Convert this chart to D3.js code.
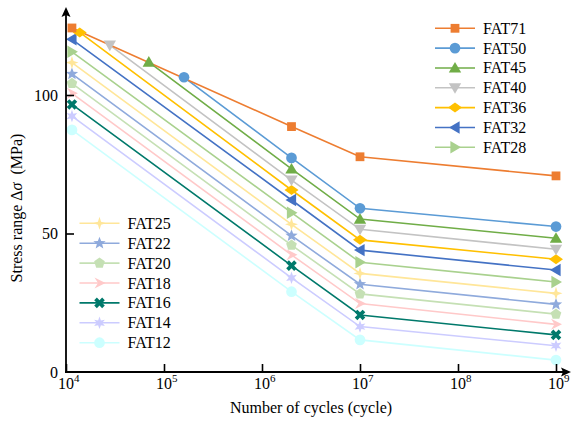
<!DOCTYPE html>
<html><head><meta charset="utf-8">
<script src="https://cdn.jsdelivr.net/npm/d3@7"></script>
<style>body{margin:0;background:#fff} svg{display:block} svg text{font-family:'Liberation Serif','Times New Roman',serif !important;}</style>
</head><body>
<svg id="c" width="572" height="422"></svg>
<script>
// ---------------- data ----------------
const seriesNames = ["FAT71","FAT50","FAT45","FAT40","FAT36","FAT32","FAT28","FAT25","FAT22","FAT20","FAT18","FAT16","FAT14","FAT12"];
const startCycles = [1.15e4,1.6e5,7.0e4,2.8e4,1.38e4,1.15e4,1.15e4,1.15e4,1.15e4,1.15e4,1.15e4,1.15e4,1.15e4,1.15e4];
const startStress = [124.2,106.4,111.9,118.0,122.6,120.1,115.6,111.7,107.6,104.2,100.6,96.6,92.4,87.4];
const knotCycles = [2e6,1e7,1e9];
const stressAt2e6 = [88.6,77.3,73.3,69.3,65.7,62.1,57.5,53.3,49.2,45.8,42.3,38.4,34.0,29.0];
const stressAt1e7 = [77.7,59.1,55.2,51.5,47.7,44.0,39.6,35.6,31.7,28.2,24.7,20.6,16.4,11.6];
const stressAt1e9 = [70.8,52.5,48.3,44.3,40.7,36.8,32.5,28.4,24.4,20.9,17.2,13.4,9.5,4.3];
const xTickValues = [1e4,1e5,1e6,1e7,1e8,1e9];
const yTickValues = [0,50,100];

// ---------------- styles ----------------
const colors = ["#ED7D31","#5B9BD5","#70AD47","#C3C3C3","#FFC000","#4472C4","#A9D18E","#FFE699","#8FAADC","#C5E0B4","#FFC9C9","#00796B","#CCCCFF","#CCFFFF"];
const markers = ["square","circle","triUp","triDown","diamond","triLeft","triRight","star4","star5","pentagon","chevron","cross","star6","circle"];

const svg = d3.select("#c");
const FONT = "Liberation Serif, Times New Roman, serif";

const x = d3.scaleLog().domain([1e4,1e9]).range([66,556]);
const y = d3.scaleLinear().domain([0,100]).range([372,95]);

function poly(pts){return "M"+pts.map(p=>p[0].toFixed(2)+","+p[1].toFixed(2)).join("L")+"Z";}
function starPts(n,r1,r2,rot){const p=[];for(let i=0;i<2*n;i++){const a=rot+Math.PI*i/n;const r=i%2?r2:r1;p.push([r*Math.sin(a),-r*Math.cos(a)]);}return p;}
function markerPath(kind){
  switch(kind){
    case "square": return poly([[-4.4,-4.4],[4.4,-4.4],[4.4,4.4],[-4.4,4.4]]);
    case "circle": return d3.symbol(d3.symbolCircle,90)();
    case "triUp": return poly([[0,-6],[6.2,4.6],[-6.2,4.6]]);
    case "triDown": return poly([[0,6],[6.2,-4.6],[-6.2,-4.6]]);
    case "triLeft": return poly([[-6,0],[4.6,-6.2],[4.6,6.2]]);
    case "triRight": return poly([[6,0],[-4.6,-6.2],[-4.6,6.2]]);
    case "diamond": return poly([[0,-5],[7,0],[0,5],[-7,0]]);
    case "star4": return poly(starPts(4,6.5,2.2,0));
    case "star5": return poly(starPts(5,6.5,2.8,0));
    case "pentagon": return poly(starPts(5,5.6,5.6*Math.cos(Math.PI/5),0).filter((_,i)=>i%2===0));
    case "chevron": return poly([[-5,-5.5],[6,0],[-5,5.5],[-1.5,0]]);
    case "cross": return d3.symbol(d3.symbolCross,70)();
    case "star6": return poly(starPts(6,6.2,2.8,0));
  }
}
function markerTransform(kind,px,py){return `translate(${px},${py})`+(kind==="cross"?" rotate(45)":"");}

// ---------------- series ----------------
const series = seriesNames.map((name,i)=>({
  name, color: colors[i], marker: markers[i],
  pts: [[startCycles[i],startStress[i]],[knotCycles[0],stressAt2e6[i]],[knotCycles[1],stressAt1e7[i]],[knotCycles[2],stressAt1e9[i]]]
}));

const line = d3.line().x(d=>x(d[0])).y(d=>y(d[1]));
const gLines = svg.append("g");
series.slice().reverse().forEach(s=>{
  gLines.append("path").attr("d",line(s.pts)).attr("fill","none").attr("stroke",s.color).attr("stroke-width",1.6);
});
const gMarks = svg.append("g");
series.slice().reverse().forEach(s=>{
  s.pts.forEach(p=>{
    gMarks.append("path").attr("d",markerPath(s.marker)).attr("transform",markerTransform(s.marker,x(p[0]),y(p[1]))).attr("fill",s.color);
  });
});

// ---------------- axes ----------------
const ax = svg.append("g").attr("transform","translate(0,372)")
  .call(d3.axisBottom(x).tickValues(xTickValues).tickSizeInner(-8).tickSizeOuter(0).tickFormat(""));
ax.select(".domain").remove();
ax.selectAll(".tick line").attr("stroke","#000").attr("stroke-width",1.6);

const ay = svg.append("g").attr("transform","translate(66,0)")
  .call(d3.axisLeft(y).tickValues(yTickValues).tickSizeInner(-8).tickSizeOuter(0).tickPadding(8).tickFormat(d3.format("d")));
ay.attr("font-family",FONT).attr("font-size",16);
ay.select(".domain").remove();
ay.selectAll(".tick line").attr("stroke","#000").attr("stroke-width",1.6).filter(d=>d===0).remove();
ay.selectAll(".tick text").attr("font-family",FONT).attr("font-size",16).attr("fill","#000");

// axis lines with arrows
svg.append("line").attr("x1",65).attr("x2",564).attr("y1",372).attr("y2",372).attr("stroke","#000").attr("stroke-width",1.8);
svg.append("line").attr("x1",66).attr("x2",66).attr("y1",373).attr("y2",14).attr("stroke","#000").attr("stroke-width",1.8);
svg.append("path").attr("d","M571,372L561,367.5L563,372L561,376.5Z").attr("fill","#000");
svg.append("path").attr("d","M66,7L61.5,17L66,15L70.5,17Z").attr("fill","#000");

// x tick labels with superscripts
const xl = svg.append("g");
xTickValues.forEach(v=>{
  const t = xl.append("text").attr("x",x(v)-8).attr("y",389).attr("font-family",FONT).attr("font-size",16).attr("fill","#000");
  t.append("tspan").text("10");
  t.append("tspan").attr("font-size",11).attr("dy",-7).text(String(Math.round(Math.log10(v))));
});

// axis titles
svg.append("text").attr("x",311).attr("y",413).attr("text-anchor","middle")
  .attr("font-family",FONT).attr("font-size",16).attr("fill","#000").text("Number of cycles (cycle)");
const yt = svg.append("text").attr("transform","translate(22,208) rotate(-90)").attr("text-anchor","middle")
  .attr("font-family",FONT).attr("font-size",16).attr("fill","#000").attr("xml:space","preserve");
yt.append("tspan").text("Stress range Δ");
yt.append("tspan").attr("font-style","italic").text("σ");
yt.append("tspan").text("\u00a0 (MPa)");

// ---------------- legends ----------------
function legend(items, x0, y0, dy){
  const g = svg.append("g");
  items.forEach((s,i)=>{
    const yy = y0 + i*dy;
    g.append("line").attr("x1",x0).attr("x2",x0+40).attr("y1",yy).attr("y2",yy).attr("stroke",s.color).attr("stroke-width",1.6);
    g.append("path").attr("d",markerPath(s.marker)).attr("transform",markerTransform(s.marker,x0+20,yy)).attr("fill",s.color);
    g.append("text").attr("x",x0+48).attr("y",yy+5.5).attr("font-family",FONT).attr("font-size",16).attr("fill","#000").text(s.name);
  });
}
legend(series.slice(0,7), 435, 28.3, 19.83);
legend(series.slice(7), 79.5, 223.3, 19.9);
</script>
</body></html>
